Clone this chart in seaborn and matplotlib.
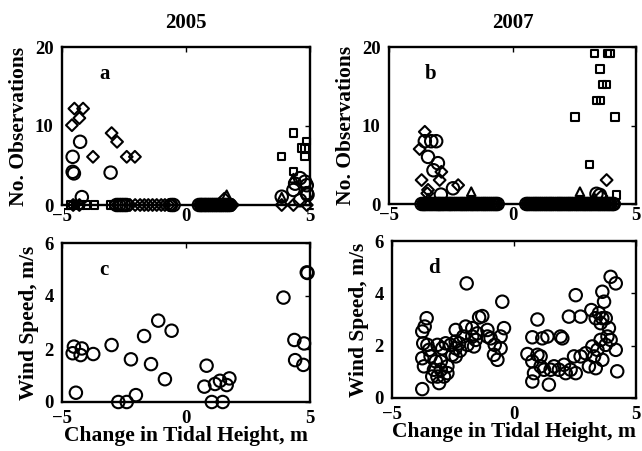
import matplotlib
matplotlib.use("Agg")
import matplotlib.pyplot as plt
import seaborn as sns

# ---------------- data ----------------
# Panel a (2005, No. Observations) -- points above zero
a_circ_x = [-4.27, -4.57, -4.57, -4.52, -3.04, -4.2, 4.6, 4.8, 4.4, 4.87, 4.33, 4.87, 4.9, 3.86, 4.6]
a_circ_y = [8.0, 6.1, 4.2, 4.0, 4.1, 1.0, 3.4, 2.95, 2.7, 2.5, 1.9, 1.5, 1.3, 1.05, 0.6]
a_diam_x = [-4.5, -4.15, -4.3, -4.6, -3.0, -2.78, -3.75, -2.39, -2.06, 1.55]
a_diam_y = [12.2, 12.2, 11.0, 10.1, 9.1, 8.0, 6.1, 6.1, 6.1, 0.8]
a_sq_x = [4.33, 4.87, 4.66, 4.8, 3.86, 4.8, 4.33]
a_sq_y = [9.1, 8.0, 7.2, 7.2, 6.1, 6.1, 4.2]
a_tri_x = [1.64, 4.33, 3.86]
a_tri_y = [1.3, 3.4, 1.0]
# Panel a -- tide heights with zero observations
a_circ0_x = [-2.8, -2.7, -2.6, -2.5, -2.4, -0.6, -0.5, 0.52, 0.6, 0.65, 0.74, 0.8, 0.88, 0.95,
             1.03, 1.1, 1.18, 1.25, 1.33, 1.4, 1.47, 1.55, 1.63, 1.7, 1.78]
a_diam0_x = [-4.55, -4.3, -2.26, -2.05, -1.85, -1.68, -1.52, -1.35, -1.18, -1.0, -0.85, -0.7,
             -0.58, 0.58, 0.66, 0.72, 0.8, 0.88, 0.95, 1.02, 1.1, 1.18, 1.25, 1.32, 1.4, 1.48,
             1.55, 1.62, 1.7, 1.78, 1.88, 3.86, 4.33, 4.87]
a_sq0_x = [-4.65, -4.45, -4.25, -4.0, -3.7, -3.05, -2.9]

# Panel b (2007, No. Observations) -- points above zero
b_circ_x = [-3.55, -3.29, -3.09, -3.42, -3.02, -3.2, -2.41, -2.9, 3.54, 3.4]
b_circ_y = [8.0, 8.0, 8.0, 6.0, 5.2, 4.3, 2.0, 1.2, 1.15, 1.3]
b_diam_x = [-3.55, -3.76, -2.88, -3.68, -2.95, -3.42, -2.2, -3.45, 3.81, 3.6]
b_diam_y = [9.2, 7.0, 4.1, 3.05, 3.05, 1.8, 2.4, 1.36, 3.05, 1.0]
b_sq_x = [3.31, 3.85, 3.95, 3.54, 3.65, 3.8, 3.4, 3.55, 2.53, 4.15, 3.11, 4.2]
b_sq_y = [19.2, 19.2, 19.2, 17.2, 15.2, 15.2, 13.2, 13.2, 11.1, 11.1, 5.0, 1.15]
b_tri_x = [-1.67, 2.73, -3.42, 3.3]
b_tri_y = [1.57, 1.57, 0.76, 0.9]
# Panel b -- zero observations
b_circ0_x = [-3.68, -3.6, -3.55, -3.47, -3.38, -3.3, -3.22, -3.13, -3.05, -2.98, -2.93, -2.85,
             -2.78, -2.69, -2.6, -2.53, -2.47, -2.38, -2.3, -2.21, -2.12, -2.05, -1.98, -1.9,
             -1.83, -1.74, -1.66, -1.6, -1.52, -1.44, -1.37, -1.28, -1.2, -1.13, -1.06, -0.98,
             -0.9, -0.82, -0.74, -0.67, -0.6,
             0.56, 0.63, 0.71, 0.8, 0.88, 0.95, 1.02, 1.1, 1.17, 1.25, 1.33, 1.4, 1.48, 1.55,
             1.62, 1.7, 1.79, 1.86, 1.93, 2.0, 2.08, 2.16, 2.24, 2.31, 2.38, 2.46, 2.55, 2.62,
             2.7, 2.78, 2.86, 2.93, 3.0, 3.08, 3.15, 3.22, 3.3, 3.38, 3.46, 3.53, 3.6, 3.68,
             3.75, 3.83, 3.9, 3.97, 4.05, 4.1]
b_diam0_x = [-3.62, -3.46, -3.3, -3.12, -2.98, -2.84, -2.68, -2.52, -2.36, -2.2, -2.04, -1.9,
             -1.74, -1.58, -1.44, -1.28, -1.12, -0.98, -0.82, -0.68,
             0.62, 0.78, 0.94, 1.1, 1.25, 1.4, 1.55, 1.7, 1.86, 2.0, 2.16, 2.3, 2.46,
             2.62, 2.78, 2.92, 3.08, 3.22, 3.38, 3.52, 3.68, 3.82, 3.98]
b_sq0_x = [-3.5, -3.1, -2.6, -2.0, -1.4, -0.9, 0.7, 1.3, 1.9, 2.5, 3.1, 3.7]

# Panel c (2005, Wind Speed)
c_x = [-4.52, -4.2, -4.57, -4.25, -3.74, -4.44, -3.0, -2.73, -2.39, -2.02, -2.22, -1.69, -1.12,
       -0.58, -1.41, -0.85, 0.83, 0.74, 1.17, 1.37, 1.64, 1.75, 1.04, 1.48, 3.93, 4.87, 4.9,
       4.37, 4.76, 4.4, 4.73]
c_y = [2.09, 2.02, 1.84, 1.77, 1.81, 0.35, 2.15, 0.0, 0.0, 0.26, 1.61, 2.49, 3.07,
       2.69, 1.43, 0.86, 1.37, 0.58, 0.68, 0.8, 0.64, 0.89, 0.0, 0.0, 3.94, 4.89, 4.87,
       2.34, 2.21, 1.58, 1.4]

# Panel d (2007, Wind Speed)
d_x = [-3.76, -3.58, -3.66, -3.76, -3.72, -3.55, -3.76, -3.69, -3.48, -3.42, -3.28, -3.14, -3.07,
       -3.35, -3.0, -2.87, -3.0, -3.21, -2.73, -2.73, -2.94, -3.14, -2.6, -2.8, -2.39, -2.39,
       -2.53, -2.39, -2.21, -2.39, -2.25, -1.98, -2.08, -1.91, -1.64, -1.94, -1.71, -1.71,
       -1.43, -1.3, -1.5, -1.57, -1.09, -1.09, -0.96, -0.79, -0.82, -0.68, -0.55, -0.55,
       -0.41, -0.48,
       0.55, 0.75, 0.75, 0.96, 0.82, 0.75, 0.96, 1.09, 1.09, 1.16, 1.37, 1.23, 1.43, 1.5,
       1.64, 1.91, 1.98, 1.84, 2.05, 2.12, 2.25, 2.32, 2.46, 2.53, 2.53, 2.73, 2.73, 2.94,
       3.07, 3.17, 3.21, 3.28, 3.35, 3.35, 3.48, 3.55, 3.62, 3.55, 3.42, 3.62, 3.69, 3.76,
       3.83, 3.89, 3.76, 3.96, 4.17, 3.96, 4.17, 4.23, 3.62]
d_y = [0.34, 3.05, 2.73, 2.54, 2.09, 2.03, 1.52, 1.21, 1.84, 1.59, 1.08, 0.82, 0.57,
       0.82, 1.08, 0.82, 1.4, 1.4, 1.21, 0.95, 1.9, 2.03, 2.03, 2.09, 2.16, 1.9,
       1.65, 1.59, 1.81, 2.6, 2.09, 2.73, 2.35, 2.03, 1.97, 4.38, 2.67, 2.35,
       3.08, 3.13, 2.47, 2.22, 2.6, 2.35, 2.28, 2.03, 1.65, 1.46, 1.9, 2.35,
       2.67, 3.68,
       1.68, 1.4, 2.32, 3.0, 0.95, 0.63, 1.65, 1.59, 1.21, 2.28, 2.35, 1.08, 0.51, 1.08,
       1.21, 2.35, 2.28, 1.08, 1.27, 0.95, 3.11, 1.08, 1.59, 3.93, 0.95, 1.59, 3.11, 1.71,
       1.21, 3.36, 1.97, 1.59, 1.14, 3.05, 3.24, 2.86, 3.05, 2.22, 1.84, 4.06, 3.68, 3.05,
       2.35, 2.67, 2.03, 4.63, 4.38, 2.22, 1.84, 1.02, 1.46]

titles = ["2005", "2007"]
panel_letters = ["a", "b", "c", "d"]
xlabel = "Change in Tidal Height, m"
ylabel_top = "No. Observations"
ylabel_bottom = "Wind Speed, m/s"

# ---------------- style ----------------
TICK_FS = 13.5
LAB_FS = 15.5
sns.set_theme(style="white")
plt.rcParams["font.family"] = ["Liberation Serif", "DejaVu Serif"]
plt.rcParams.update({
    "font.weight": "bold",
    "axes.labelweight": "bold",
    "axes.titleweight": "bold",
    "axes.linewidth": 1.7,
    "axes.edgecolor": "black",
    "xtick.direction": "in",
    "ytick.direction": "in",
    "xtick.top": True,
    "ytick.right": True,
    "xtick.major.size": 3.5,
    "ytick.major.size": 3.5,
    "xtick.major.width": 1.0,
    "ytick.major.width": 1.0,
    "xtick.color": "black",
    "ytick.color": "black",
    "xtick.labelsize": TICK_FS,
    "ytick.labelsize": TICK_FS,
    "axes.labelsize": LAB_FS,
    "axes.titlesize": 15,
    "text.color": "black",
    "axes.labelcolor": "black",
})

fig = plt.figure(figsize=(6.42, 4.51), dpi=100)
W, H = 642, 451

def add_ax(l, t, r, b):
    return fig.add_axes([l / W, 1 - b / H, (r - l) / W, (b - t) / H])

ax_a = add_ax(62, 47, 310, 205)
ax_b = add_ax(389, 47, 636, 204)
ax_c = add_ax(62, 243, 310, 402)
ax_d = add_ax(392, 241, 636, 398)

LW = 1.5
def pts(ax, x, y, marker, s):
    sns.scatterplot(x=x, y=y, ax=ax, marker=marker, s=s, color="none",
                    edgecolor="black", linewidth=LW, clip_on=False, zorder=3)

SIZES = {"o": 80, "D": 36, "s": 28, "^": 38}
for ax, groups in [
        (ax_a, [("o", a_circ_x, a_circ_y), ("D", a_diam_x, a_diam_y), ("s", a_sq_x, a_sq_y),
                ("^", a_tri_x, a_tri_y), ("o", a_circ0_x, None), ("D", a_diam0_x, None),
                ("s", a_sq0_x, None)]),
        (ax_b, [("o", b_circ_x, b_circ_y), ("D", b_diam_x, b_diam_y), ("s", b_sq_x, b_sq_y),
                ("^", b_tri_x, b_tri_y), ("o", b_circ0_x, None), ("D", b_diam0_x, None),
                ("s", b_sq0_x, None)])]:
    for m, xs, ys in groups:
        if ys is None:
            ys = [0] * len(xs)
        pts(ax, xs, ys, m, SIZES[m])
    ax.set_xlim(-5, 5)
    ax.set_ylim(0, 20)
    ax.set_yticks([0, 10, 20])
    ax.set_ylabel(ylabel_top, labelpad=4)
    ax.tick_params(axis="x", pad=2)

pts(ax_c, c_x, c_y, "o", SIZES["o"])
pts(ax_d, d_x, d_y, "o", SIZES["o"])
for ax in (ax_c, ax_d):
    ax.set_xlim(-5, 5)
    ax.set_ylim(0, 6)
    ax.set_yticks([0, 2, 4, 6])
    ax.set_ylabel(ylabel_bottom, labelpad=4)
    ax.tick_params(axis="x", pad=6)
    ax.set_xlabel(xlabel, labelpad=-1)

for ax, letter in zip([ax_a, ax_b, ax_c, ax_d], panel_letters):
    ax.set_xticks([-5, 0, 5])
    ax.tick_params(axis="y", pad=6)
    ax.text(0.17, 0.83, letter, transform=ax.transAxes, fontsize=15,
            fontweight="bold", ha="center", va="center")
    for sp in ax.spines.values():
        sp.set_visible(True)
        sp.set_color("black")

ax_a.set_title(titles[0], pad=14)
ax_b.set_title(titles[1], pad=14)

fig.savefig("out.png", dpi=100)
